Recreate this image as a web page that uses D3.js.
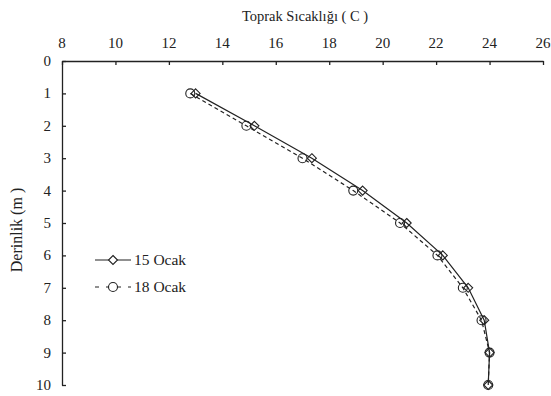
<!doctype html>
<html>
  <head>
    <script src="https://cdn.jsdelivr.net/npm/d3@7/dist/d3.min.js"></script>
    <style>
      body { margin: 0; background: #fff; }
      text { font-family: "Liberation Serif", "Times New Roman", serif; fill: #222; }
    </style>
  </head>
  <body>
    <svg width="551" height="396"></svg>
    <script>
        var depths = [1, 2, 3, 4, 5, 6, 7, 8, 9, 10];
        var ocak15 = [13.0, 15.2, 17.35, 19.25, 20.9, 22.25, 23.2, 23.8, 24.0, 23.95];
        var ocak18 = [12.8, 14.9, 17.0, 18.9, 20.65, 22.05, 23.0, 23.7, 24.0, 23.95];
        var xTicks = [8, 10, 12, 14, 16, 18, 20, 22, 24, 26];
        var yTicks = [0, 1, 2, 3, 4, 5, 6, 7, 8, 9, 10];

        var svg = d3.select("svg");
        var x = d3.scaleLinear().domain([8, 26]).range([62, 543]);
        var y = d3.scaleLinear().domain([0, 10]).range([61, 385]);

        // top axis, ticks pointing inward
        svg.append("g").attr("transform", "translate(0," + y(0) + ")")
            .call(d3.axisBottom(x).tickValues(xTicks).tickSize(4).tickSizeOuter(0).tickFormat(""));
        svg.selectAll(".xl").data(xTicks).enter().append("text")
            .attr("x", d => x(d)).attr("y", 48)
            .attr("text-anchor", "middle").attr("font-size", 15)
            .text(d => d);

        svg.append("g").attr("transform", "translate(" + x(8) + ",0)")
            .call(d3.axisRight(y).tickValues(yTicks).tickSize(4).tickSizeOuter(0).tickFormat(""));
        svg.selectAll(".yl").data(yTicks).enter().append("text")
            .attr("x", 51).attr("y", d => y(d) + 5)
            .attr("text-anchor", "end").attr("font-size", 15)
            .text(d => d);

        svg.selectAll(".domain, .tick line").attr("stroke", "#222").attr("stroke-width", 1.3);

        svg.append("text").attr("x", 305).attr("y", 21)
            .attr("text-anchor", "middle").attr("font-size", 14.5)
            .text("Toprak Sıcaklığı ( C )");
        svg.append("text").attr("transform", "translate(22,230) rotate(-90)")
            .attr("text-anchor", "middle").attr("font-size", 16)
            .text("Derinlik (m )");

        var line = d3.line().x(d => x(d[1])).y(d => y(d[0]));
        var s18 = depths.map((d, i) => [d, ocak18[i]]);
        var s15 = depths.map((d, i) => [d, ocak15[i]]);

        svg.append("path").datum(s18).attr("d", line)
            .attr("fill", "none").attr("stroke", "#222").attr("stroke-width", 1.2)
            .attr("stroke-dasharray", "4,3");
        svg.append("path").datum(s15).attr("d", line)
            .attr("fill", "none").attr("stroke", "#222").attr("stroke-width", 1.2);

        var diamond = "M0,-4.5L4.5,0L0,4.5L-4.5,0Z";

        svg.selectAll(".c18").data(s18).enter().append("circle")
            .attr("cx", d => x(d[1])).attr("cy", d => y(d[0])).attr("r", 4.5)
            .attr("fill", "none").attr("stroke", "#222").attr("stroke-width", 1.1);
        svg.selectAll(".d15").data(s15).enter().append("path")
            .attr("d", diamond)
            .attr("transform", d => "translate(" + x(d[1]) + "," + y(d[0]) + ")")
            .attr("fill", "none").attr("stroke", "#222").attr("stroke-width", 1.1);

        // legend
        var lg = svg.append("g");
        lg.append("line").attr("x1", 95).attr("x2", 131).attr("y1", 260).attr("y2", 260)
            .attr("stroke", "#222").attr("stroke-width", 1.2);
        lg.append("path").attr("d", diamond).attr("transform", "translate(113,260)")
            .attr("fill", "#fff").attr("stroke", "#222").attr("stroke-width", 1.1);
        lg.append("text").attr("x", 134).attr("y", 265).attr("font-size", 15.5).text("15 Ocak");

        lg.append("line").attr("x1", 95).attr("x2", 131).attr("y1", 287).attr("y2", 287)
            .attr("stroke", "#222").attr("stroke-width", 1.2).attr("stroke-dasharray", "4,7");
        lg.append("circle").attr("cx", 113).attr("cy", 287).attr("r", 4.5)
            .attr("fill", "#fff").attr("stroke", "#222").attr("stroke-width", 1.1);
        lg.append("text").attr("x", 134).attr("y", 292).attr("font-size", 15.5).text("18 Ocak");
    </script>
  </body>
</html>
